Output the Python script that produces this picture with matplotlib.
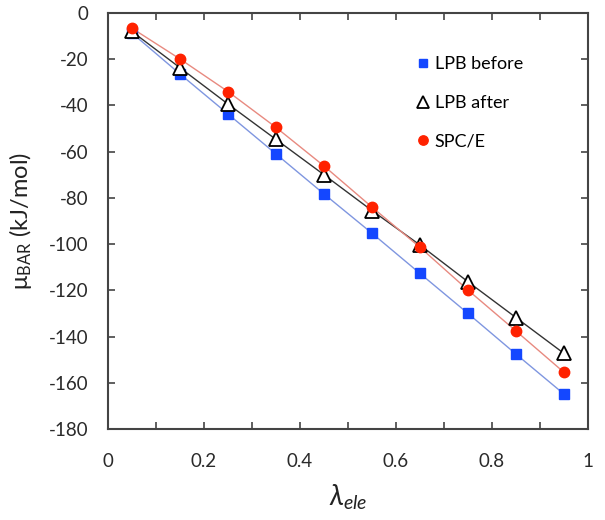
import matplotlib
matplotlib.use("Agg")
import matplotlib.pyplot as plt
from matplotlib.ticker import MultipleLocator

lam = [0.05, 0.15, 0.25, 0.35, 0.45, 0.55, 0.65, 0.75, 0.85, 0.95]
lpb_before = [-8.7, -26.4, -43.7, -61.0, -78.3, -95.3, -112.7, -130.0, -147.6, -164.9]
lpb_after = [-8.0, -23.7, -39.4, -54.7, -70.0, -85.5, -100.4, -116.3, -131.8, -147.3]
spce = [-6.6, -19.9, -34.0, -49.5, -66.2, -84.0, -101.4, -119.9, -137.6, -155.5]

plt.rcParams['font.family'] = ['Lato', 'DejaVu Sans']
plt.rcParams['axes.unicode_minus'] = False
plt.rcParams['mathtext.fontset'] = 'custom'
plt.rcParams['mathtext.rm'] = 'Lato'
plt.rcParams['mathtext.it'] = 'Lato:italic'

fig = plt.figure(figsize=(6.05, 5.2), dpi=100)
ax = fig.add_axes([108/605, 1-429/520, 480/605, 416/520])

ax.plot(lam, lpb_before, '-', color='#7f96e0', lw=1.0, zorder=2)
ax.plot(lam, lpb_after, '-', color='#333333', lw=1.0, zorder=2)
ax.plot(lam, spce, '-', color='#e88a80', lw=1.0, zorder=2)

ax.plot(lam, lpb_before, 's', color='#1447ff', ms=7, mec='#1447ff', ls='none', label='LPB before', zorder=3)
ax.plot(lam, lpb_after, '^', mfc='white', mec='black', mew=1.3, ms=10, ls='none', label='LPB after', zorder=4)
ax.plot(lam, spce, 'o', color='#ff2200', ms=7.5, ls='none', label='SPC/E', zorder=5)

ax.set_xlim(0, 1)
ax.set_ylim(-180, 0)
ax.xaxis.set_minor_locator(MultipleLocator(0.1))
ax.yaxis.set_major_locator(MultipleLocator(20))
ax.set_xticks([0, 0.2, 0.4, 0.6, 0.8, 1.0])
ax.set_xticklabels(['0', '0.2', '0.4', '0.6', '0.8', '1'])
ax.tick_params(which='both', direction='in', top=True, right=True, length=5, width=1.2, color='#444444',
               labelsize=13.5, labelcolor='#2a2a2a')
ax.tick_params(axis='y', pad=14)
ax.tick_params(axis='x', pad=17)
for s in ax.spines.values():
    s.set_color('#444444')
    s.set_linewidth(1.5)

ax.set_ylabel(r'$\mathregular{\mu_{BAR}}$ (kJ/mol)', fontsize=17, color='#222222', labelpad=11)
ax.set_xlabel(r'$\lambda_{ele}$', fontsize=20, color='#222222', labelpad=9)

leg = ax.legend(loc='upper left', bbox_to_anchor=(0.6, 0.935), frameon=False, fontsize=13,
                handletextpad=0.05, labelspacing=1.25, handlelength=1.2, markerscale=0.9)

fig.savefig('out.png', dpi=100)
